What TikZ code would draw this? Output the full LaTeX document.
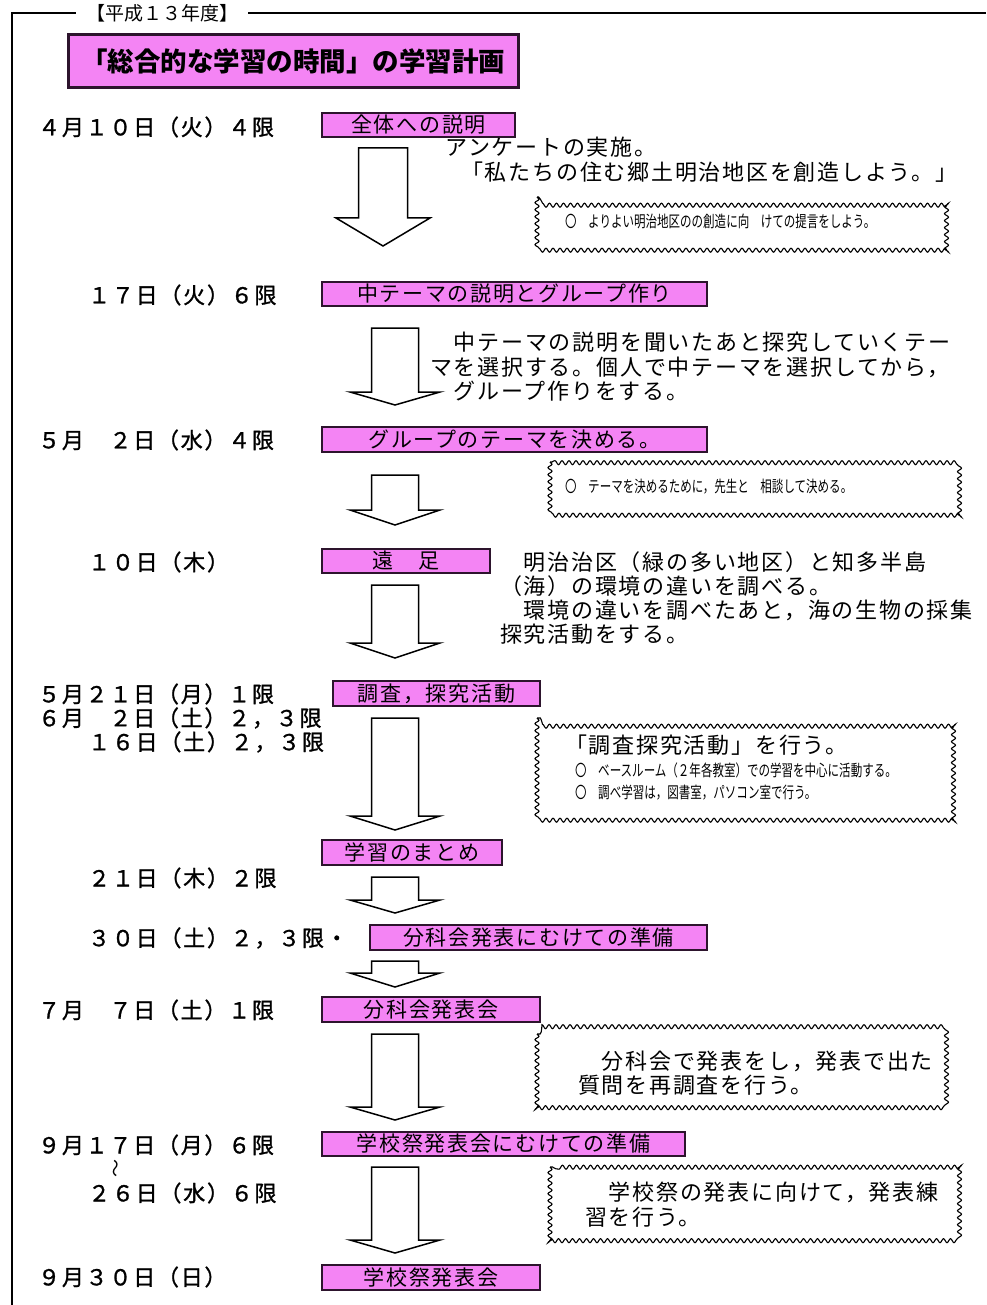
\documentclass[tikz,border=0pt]{standalone}
\usepackage{fontspec}
\usepackage{graphicx}
\usetikzlibrary{decorations.pathmorphing}
\newfontfamily\jp[LetterSpace=8]{Noto Sans CJK JP}
\newfontfamily\jpb[LetterSpace=8,FakeBold=1.2]{Noto Sans CJK JP}
\newfontfamily\jpt{Noto Sans CJK JP}
\definecolor{pinkfill}{RGB}{244,132,244}
\definecolor{boxline}{RGB}{45,20,45}
\newcommand\smalljp[1]{\scalebox{0.72}[1]{\jpt\fontsize{16}{16}\selectfont #1}}
\newcommand\stagebox[6]{\node[stage, minimum width={#4-#2}, minimum height={#5-#3}] (#1) at ({(#2+#4)/2},{(#3+#5)/2}) {#6};}
\newcommand\flowarrow[6]{\draw[flow] ({#1-#5},#2) -- ({#1+#5},#2) -- ({#1+#5},#3) -- ({#1+#6},#3) -- (#1,#4) -- ({#1-#6},#3) -- ({#1-#5},#3) -- cycle;}
\tikzset{
  stage/.style={draw=boxline, line width=1.8pt, fill=pinkfill, inner sep=0pt, font=\jp\fontsize{21}{24}\selectfont},
  datetext/.style={anchor=west, inner sep=0pt, font=\jpb\fontsize{22}{24}\selectfont},
  note/.style={anchor=north west, inner sep=0pt, align=left, font=\jp\fontsize{22}{24.5}\selectfont},
  smallnote/.style={anchor=west, inner sep=0pt},
  wavybox/.style={draw, line width=1.1pt, decorate, decoration={snake, segment length=7pt, amplitude=2pt}},
  flow/.style={draw, line width=1.5pt, fill=white, line join=miter},
}
\begin{document}
\begin{tikzpicture}[x=1pt,y=-1pt]
\useasboundingbox (0,0) rectangle (986,1305);
% frame
\draw[line width=2.5pt] (12,1305) -- (12,13) -- (986,13);
\node[fill=white, inner xsep=10pt, inner ysep=2pt, font=\jpt\fontsize{19}{20}\selectfont] (yr) at (162,13) {【平成１３年度】};
% title
\node[draw=boxline, line width=3pt, fill=pinkfill, minimum width=450, minimum height=53, inner sep=0pt, font=\jpt\bfseries\fontsize{26.5}{28}\selectfont] (title) at (293,61.5) {「総合的な学習の時間」の学習計画};

% stage boxes
\stagebox{s1}{322}{113}{515}{137}{全体への説明}
\stagebox{s2}{322}{282}{707}{306}{中テーマの説明とグループ作り}
\stagebox{s3}{322}{427}{707}{452}{グループのテーマを決める。}
\stagebox{s4}{322}{549}{490}{573}{遠　足}
\stagebox{s5}{333}{681}{540}{706}{調査，探究活動}
\stagebox{s6}{322}{840}{502}{865}{学習のまとめ}
\stagebox{s7}{370}{925}{707}{950}{分科会発表にむけての準備}
\stagebox{s8}{322}{997}{540}{1022}{分科会発表会}
\stagebox{s9}{322}{1132}{685}{1156}{学校祭発表会にむけての準備}
\stagebox{s10}{322}{1265}{540}{1290}{学校祭発表会}

% block arrows
\flowarrow{383}{148}{218}{246}{24.5}{47}
\flowarrow{395}{328}{392}{405}{23.5}{45}
\flowarrow{395}{475}{510}{525}{23.5}{45}
\flowarrow{395}{585}{643}{658}{23.5}{45}
\flowarrow{395}{718}{816}{830}{23.5}{45}
\flowarrow{395}{877}{900}{913}{23.5}{45}
\flowarrow{395}{961}{973}{987}{23.5}{45}
\flowarrow{395}{1034}{1107}{1120}{23.5}{45}
\flowarrow{395}{1167}{1240}{1253}{23.5}{45}

% dates
\node[datetext] (d1) at (38,127) {４月１０日（火）４限};
\node[datetext] (d2) at (88,295) {１７日（火）６限};
\node[datetext] (d3) at (38,440) {５月　２日（水）４限};
\node[datetext] (d4) at (88,562) {１０日（木）};
\node[datetext] (d5) at (38,694) {５月２１日（月）１限};
\node[datetext] (d6) at (38,718) {６月　２日（土）２，３限};
\node[datetext] (d7) at (88,742) {１６日（土）２，３限};
\node[datetext] (d8) at (88,878) {２１日（木）２限};
\node[datetext] (d9) at (88,938) {３０日（土）２，３限・};
\node[datetext] (d10) at (38,1010) {７月　７日（土）１限};
\node[datetext] (d11) at (38,1145) {９月１７日（月）６限};
\node[rotate=90, inner sep=0pt, font=\jpt\fontsize{18}{18}\selectfont] (tl) at (118,1168) {～};
\node[datetext] (d12) at (88,1193) {２６日（水）６限};
\node[datetext] (d13) at (38,1277) {９月３０日（日）};

% notes
\node[note] (n1) at (445,137) {アンケートの実施。\\\hspace{16pt}「私たちの住む郷土明治地区を創造しよう。」};
\node[note] (n2) at (430,332) {　中テーマの説明を聞いたあと探究していくテー\\マを選択する。個人で中テーマを選択してから，\\　グループ作りをする。};
\node[note, font=\jp\fontsize{22}{24.3}\selectfont] (n4) at (500,551) {　明治治区（緑の多い地区）と知多半島\\（海）の環境の違いを調べる。\\　環境の違いを調べたあと，海の生物の採集\\探究活動をする。};

% wavy boxes
\draw[wavybox] (537,197) rectangle (948,245);
\node[smallnote] (w1) at (565,221) {\smalljp{〇　よりよい明治地区のの創造に向　けての提言をしよう。}};
\draw[wavybox] (550,462) rectangle (960,512);
\node[smallnote] (w2) at (565,487) {\smalljp{〇　テーマを決めるために，先生と　相談して決める。}};
\draw[wavybox] (537,718) rectangle (955,816);
\node[note, anchor=west] (w3a) at (565,745) {「調査探究活動」を行う。};
\node[smallnote] (w3b) at (575,770) {\smalljp{〇　ベースルーム（２年各教室）での学習を中心に活動する。}};
\node[smallnote] (w3c) at (575,793) {\smalljp{〇　調べ学習は，図書室，パソコン室で行う。}};
\draw[wavybox] (537,1034) rectangle (948,1108);
\node[note, font=\jp\fontsize{22}{23.5}\selectfont] (w4) at (578,1051) {　分科会で発表をし，発表で出た\\質問を再調査を行う。};
\draw[wavybox] (550,1167) rectangle (960,1240);
\node[note, font=\jp\fontsize{22}{25}\selectfont] (w5) at (585,1182) {　学校祭の発表に向けて，発表練\\習を行う。};
\end{tikzpicture}
\end{document}
